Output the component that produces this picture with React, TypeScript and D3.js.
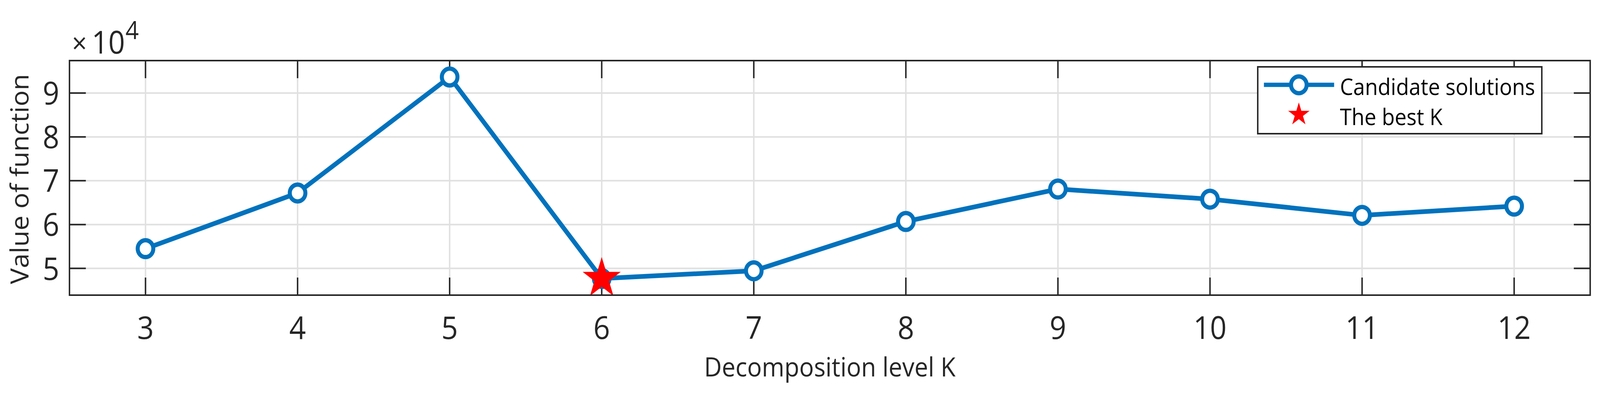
import React from 'react';
import * as d3 from 'd3';

// Data (values in units of 10^4)
const levels = [3, 4, 5, 6, 7, 8, 9, 10, 11, 12];
const values = [5.45, 6.72, 9.365, 4.77, 4.945, 6.07, 6.81, 6.58, 6.21, 6.42];
const bestK = [6];
const bestValue = [4.77];
const xTicks = [3, 4, 5, 6, 7, 8, 9, 10, 11, 12];
const yTicks = [5, 6, 7, 8, 9];
const seriesNames = ['Candidate solutions', 'The best K'];
const xLabel = 'Decomposition level K';
const yLabel = 'Value of function';

const BLUE = '#0072BD';
const RED = '#FF0000';
const AX = '#262626';
const GRID = '#e0e0e0';
const FONT = '"Open Sans", "Noto Sans", sans-serif';

export default function App() {
  const W = 4399;
  const H = 1013;
  const L = 191, R = 4372, T = 155, B = 755;
  const x = d3.scaleLinear().domain([2.5, 12.5]).range([L, R]);
  const y = d3.scaleLinear().domain([4.39, 9.74]).range([B, T]);
  const linePath = d3
    .line<number>()
    .x((_, i) => x(levels[i]))
    .y((d) => y(d))(values) as string;
  const starBig = d3.symbol(d3.symbolStar, (55 * 55) / 0.8908130915292852)() as string;
  const starSmall = d3.symbol(d3.symbolStar, (31 * 31) / 0.8908130915292852)() as string;
  const tickLen = 45;

  // legend geometry
  const lg = { x0: 3458, x1: 4239, y0: 171, y1: 342 };
  const legSymX = 3571;
  const legRow1 = 217;
  const legRow2 = 293;

  return (
    <svg
      viewBox={`0 0 ${W} ${H}`}
      preserveAspectRatio="none"
      style={{ position: 'fixed', left: 0, top: 0, width: '100vw', height: '100vh', background: '#fff', display: 'block' }}
      fontFamily={FONT}
    >
      <rect x={0} y={0} width={W} height={H} fill="#fff" />
      {/* grid */}
      {xTicks.map((t) => (
        <line key={'gx' + t} x1={x(t)} x2={x(t)} y1={T} y2={B} stroke={GRID} strokeWidth={4} />
      ))}
      {yTicks.map((t) => (
        <line key={'gy' + t} x1={L} x2={R} y1={y(t)} y2={y(t)} stroke={GRID} strokeWidth={4} />
      ))}
      {/* ticks */}
      {xTicks.map((t) => (
        <g key={'tx' + t}>
          <line x1={x(t)} x2={x(t)} y1={B} y2={B - tickLen} stroke={AX} strokeWidth={4} />
          <line x1={x(t)} x2={x(t)} y1={T} y2={T + tickLen} stroke={AX} strokeWidth={4} />
          <text x={x(t)} y={867} textAnchor="middle" fontSize={80} fill={AX}>
            {t}
          </text>
        </g>
      ))}
      {yTicks.map((t) => (
        <g key={'ty' + t}>
          <line x1={L} x2={L + tickLen} y1={y(t)} y2={y(t)} stroke={AX} strokeWidth={4} />
          <line x1={R} x2={R - tickLen} y1={y(t)} y2={y(t)} stroke={AX} strokeWidth={4} />
          <text x={163} y={y(t) + 29} textAnchor="end" fontSize={80} fill={AX}>
            {t}
          </text>
        </g>
      ))}
      {/* exponent label */}
      <text x={198} y={136} fontSize={72} fill={AX}>
        ×
      </text>
      <text x={252} y={137} fontSize={80} fill={AX}>
        10
      </text>
      <text x={345} y={100} fontSize={64} fill={AX}>
        4
      </text>
      {/* axis labels */}
      <text x={(L + R) / 2} y={963} textAnchor="middle" fontSize={67} fill={AX}>
        {xLabel}
      </text>
      <text transform={`translate(78, ${(T + B) / 2 + 3}) rotate(-90)`} textAnchor="middle" fontSize={68} fill={AX}>
        {yLabel}
      </text>
      {/* data line */}
      <path d={linePath} fill="none" stroke={BLUE} strokeWidth={12} strokeLinejoin="round" />
      {values.map((v, i) => (
        <circle key={'m' + i} cx={x(levels[i])} cy={y(v)} r={21.5} fill="#fff" stroke={BLUE} strokeWidth={11} />
      ))}
      {bestK.map((k, i) => (
        <path key={'s' + i} d={starBig} transform={`translate(${x(k)}, ${y(bestValue[i])})`} fill={RED} />
      ))}
      {/* axes box */}
      <rect x={L} y={T} width={R - L} height={B - T} fill="none" stroke={AX} strokeWidth={4} />
      {/* legend */}
      <rect x={lg.x0} y={lg.y0} width={lg.x1 - lg.x0} height={lg.y1 - lg.y0} fill="#fff" stroke={AX} strokeWidth={4} />
      <line x1={3475} x2={3668} y1={legRow1} y2={legRow1} stroke={BLUE} strokeWidth={11} />
      <circle cx={legSymX} cy={legRow1} r={21.5} fill="#fff" stroke={BLUE} strokeWidth={11} />
      <path d={starSmall} transform={`translate(${legSymX}, ${legRow2})`} fill={RED} />
      <text x={3684} y={243} fontSize={58} fill="#000">
        {seriesNames[0]}
      </text>
      <text x={3684} y={320} fontSize={58} fill="#000">
        {seriesNames[1]}
      </text>
    </svg>
  );
}
